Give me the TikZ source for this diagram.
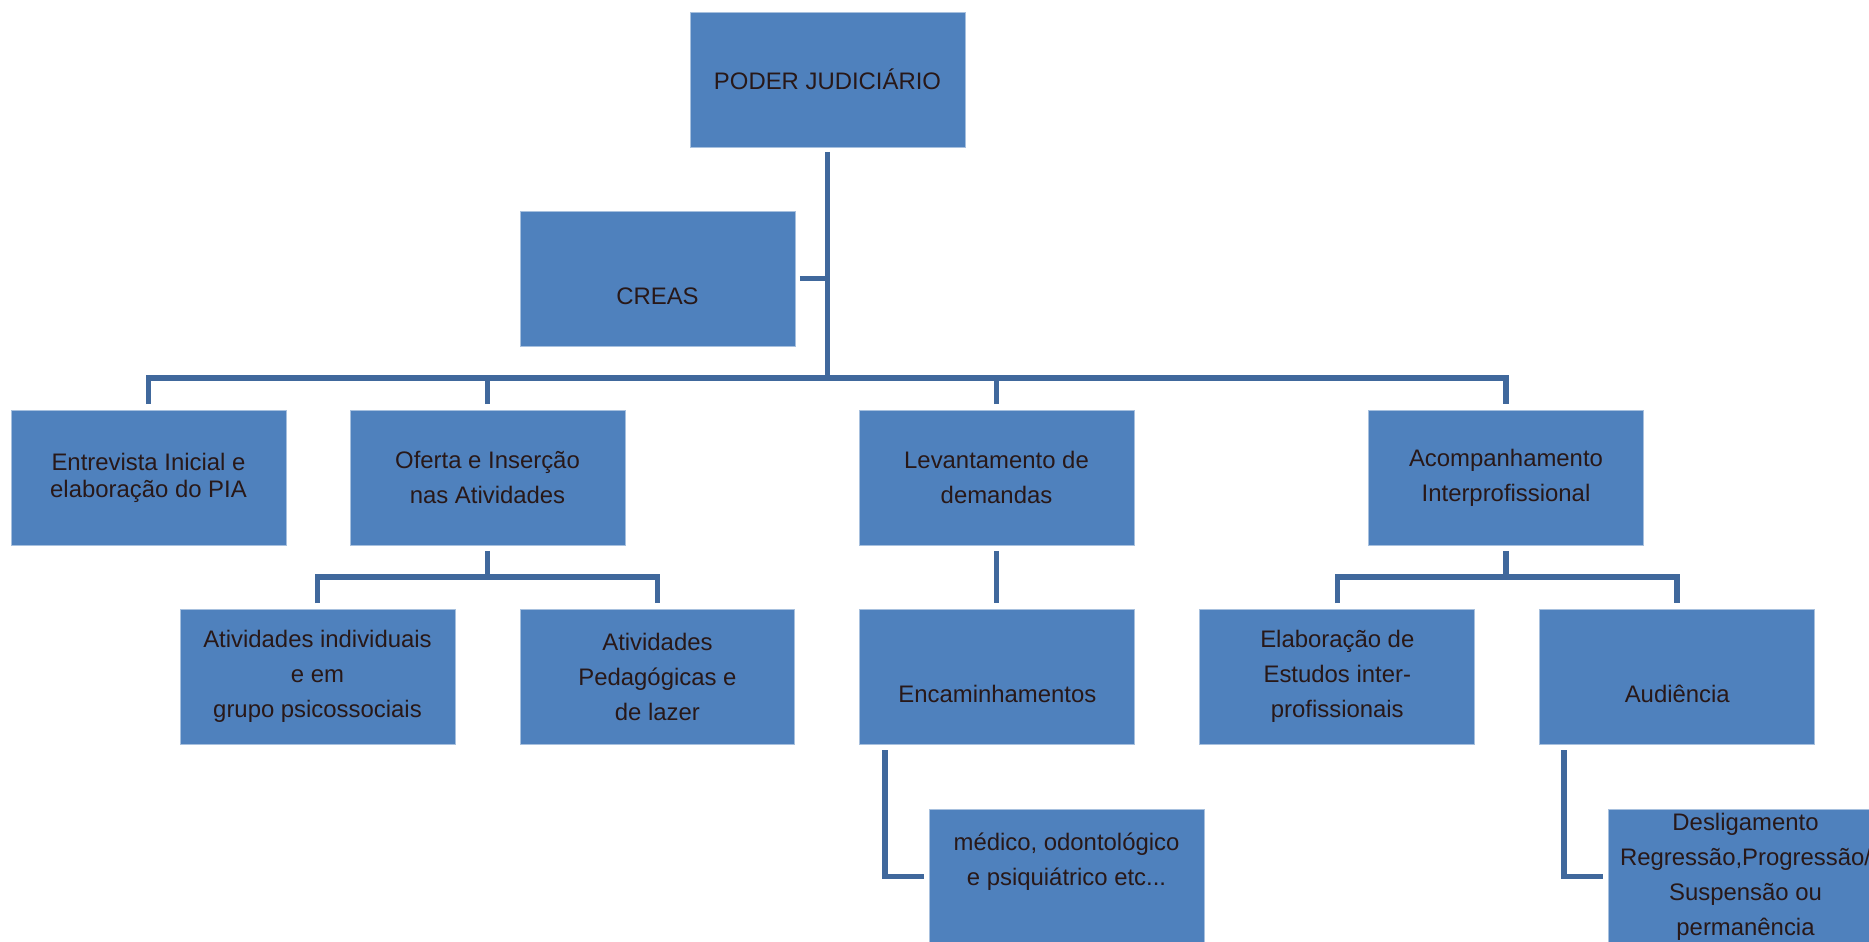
\documentclass[tikz,border=0pt]{standalone}
\usepackage{fontspec}
\setmainfont{Liberation Sans}
\usepackage{tikz}
\usetikzlibrary{positioning, calc}
\definecolor{cBox}{RGB}{79,129,189}
\definecolor{cLine}{RGB}{64,104,156}
\definecolor{cText}{RGB}{40,24,24}
\tikzset{
	orgbox/.style ={rectangle, minimum width=5.5cm, minimum height=2.7cm, align=center, draw=cBox!50!white, line width=0.5pt, fill=cBox, text=cText, inner sep=2pt, outer sep=0pt},
	conn/.style   ={draw=cLine, line width=3.2pt, line join=miter},
}

\begin{document}
\begin{tikzpicture}[x=0.02cm, y=-0.02cm, every node/.style={font=\fontsize{13.6}{19.9}\selectfont}, node distance=1.3cm]
	\clip (0,0) rectangle (1869,941);
	% top of the chart
	\node[orgbox] (poder) at (827.5,79.5) {PODER JUDICIÁRIO};
	\node[orgbox] (creas) at (657.5,278.5) {\mbox{}\\[9.5pt]CREAS};
	% second row
	\node[orgbox, font=\fontsize{13.6}{15.5}\selectfont] (entrev) at (148.5,477.5) {Entrevista Inicial e\\elaboração do PIA};
	\node[orgbox] (oferta) at (487.5,477.5) {Oferta e Inserção\\nas Atividades};
	\node[orgbox] (levant) at (996.5,477.5) {Levantamento de\\demandas};
	\node[orgbox] (acomp) at (1506,477.5) {Acompanhamento\\Interprofissional};
	% third row
	\node[orgbox] (ativind) at (317.5,676.5) {Atividades individuais\\e em\\grupo psicossociais};
	\node[orgbox, right=of ativind] (ativped) {Atividades\\Pedagógicas e\\de lazer};
	\node[orgbox, right=of ativped] (encam) {\mbox{}\\[9.5pt]Encaminhamentos};
	\node[orgbox, right=of encam] (elab) {Elaboração de\\Estudos inter-\\profissionais};
	\node[orgbox, right=of elab] (aud) {\mbox{}\\[9.5pt]Audiência};
	% fourth row
	\node[orgbox] (medico) at (1066.5,876.5) {médico, odontológico\\e psiquiátrico etc...\\\mbox{}};
	\node[orgbox] (deslig) at (1745.5,876.5) {Desligamento\\Regressão,Progressão/\\Suspensão ou\\permanência};
	% connectors
	\coordinate (hub) at (827.5,378);
	\coordinate (subO) at ([yshift=-0.64cm]oferta.south);
	\coordinate (subA) at ([yshift=-0.64cm]acomp.south);
	\coordinate (encamL) at ([xshift=0.5cm,yshift=-0.12cm]encam.south west);
	\coordinate (audL) at ([xshift=0.48cm,yshift=-0.12cm]aud.south west);
	\draw[conn] ([yshift=-0.1cm]poder.south) -- (hub);
	\draw[conn] ([xshift=0.1cm]creas.east) -- (creas.east -| hub);
	\draw[conn] ([yshift=0.12cm]entrev.north) -- (entrev.north |- hub) -- (acomp.north |- hub) -- ([yshift=0.12cm]acomp.north);
	\draw[conn] ([yshift=0.12cm]oferta.north) -- (oferta.north |- hub); \draw[conn] ([yshift=0.12cm]levant.north) -- (levant.north |- hub);
	\draw[conn] ([yshift=-0.12cm]oferta.south) -- (subO);
	\draw[conn] ([yshift=0.12cm]ativind.north) -- (ativind.north |- subO) -- (ativped.north |- subO) -- ([yshift=0.12cm]ativped.north);
	\draw[conn] ([yshift=-0.12cm]levant.south) -- ([yshift=0.12cm]levant.south |- encam.north);
	\draw[conn] ([yshift=-0.12cm]acomp.south) -- (subA);
	\draw[conn] ([yshift=0.12cm]elab.north) -- (elab.north |- subA) -- (aud.north |- subA) -- ([yshift=0.12cm]aud.north);
	\draw[conn] (encamL) -- (encamL |- medico.west) -- ([xshift=-0.1cm]medico.west);
	\draw[conn] (audL) -- (audL |- deslig.west) -- ([xshift=-0.1cm]deslig.west);
\end{tikzpicture}
\end{document}
